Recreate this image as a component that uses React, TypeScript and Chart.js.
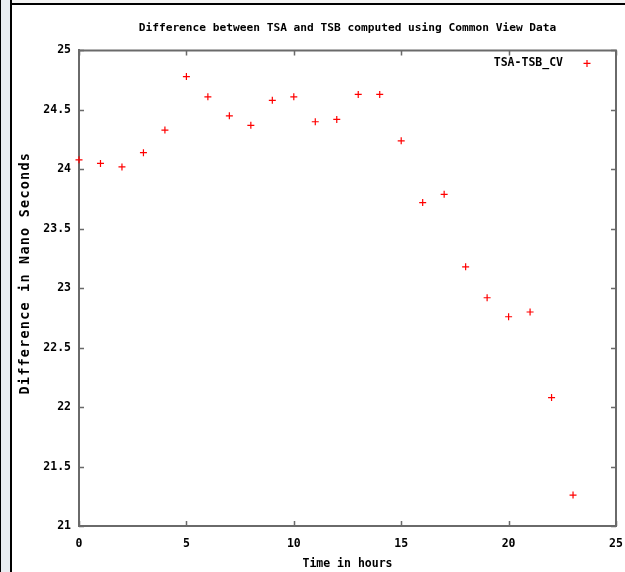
import React, { useEffect, useRef } from 'react';
import { Chart, registerables } from 'chart.js';

Chart.register(...registerables);

const titleText = 'Difference between TSA and TSB computed using Common View Data';
const seriesLabel = 'TSA-TSB_CV';
const xAxisTitle = 'Time in hours';
const yAxisTitle = 'Difference in Nano Seconds';

const hours = [0, 1, 2, 3, 4, 5, 6, 7, 8, 9, 10, 11, 12, 13, 14, 15, 16, 17, 18, 19, 20, 21, 22, 23];
const tsaTsbCv = [
  24.08, 24.05, 24.02, 24.14, 24.33, 24.78, 24.61, 24.45, 24.37, 24.58, 24.61, 24.40,
  24.42, 24.63, 24.63, 24.24, 23.72, 23.79, 23.18, 22.92, 22.76, 22.80, 22.08, 21.26,
];
const xTicks = [0, 5, 10, 15, 20, 25];
const yTicks = [21, 21.5, 22, 22.5, 23, 23.5, 24, 24.5, 25];

const FONT = "'DejaVu Sans Mono', 'Liberation Mono', monospace";
const AXIS_COLOR = '#6a6a6a';

const gnuplotFrame = {
  id: 'gnuplotFrame',
  afterDraw(chart: any) {
    const { ctx, chartArea } = chart;
    const { left, right, top, bottom } = chartArea;
    const xs = chart.scales.x;
    const ys = chart.scales.y;
    ctx.save();
    // top and right borders
    ctx.strokeStyle = AXIS_COLOR;
    ctx.lineWidth = 2;
    ctx.beginPath();
    ctx.moveTo(left - 1, top);
    ctx.lineTo(right, top);
    ctx.lineTo(right, bottom + 1);
    ctx.stroke();
    // inward ticks (mirrored)
    ctx.lineWidth = 1.5;
    ctx.beginPath();
    xTicks.forEach((v) => {
      const px = Math.round(xs.getPixelForValue(v)) + 0.5;
      ctx.moveTo(px, bottom);
      ctx.lineTo(px, bottom - 5);
      ctx.moveTo(px, top);
      ctx.lineTo(px, top + 5);
    });
    yTicks.forEach((v) => {
      const py = Math.round(ys.getPixelForValue(v)) + 0.5;
      ctx.moveTo(left, py);
      ctx.lineTo(left + 5, py);
      ctx.moveTo(right, py);
      ctx.lineTo(right - 5, py);
    });
    ctx.stroke();
    // legend (text then marker, gnuplot style)
    const ly = top + 13;
    ctx.fillStyle = '#000';
    ctx.font = `bold 11.5px ${FONT}`;
    ctx.textAlign = 'right';
    ctx.textBaseline = 'middle';
    ctx.fillText(seriesLabel, right - 53, ly);
    const mx = right - 29;
    ctx.strokeStyle = '#ff0000';
    ctx.lineWidth = 1.2;
    ctx.beginPath();
    ctx.moveTo(mx - 3.5, ly);
    ctx.lineTo(mx + 3.5, ly);
    ctx.moveTo(mx, ly - 3.5);
    ctx.lineTo(mx, ly + 3.5);
    ctx.stroke();
    // y axis title (letter-spaced, as in the original)
    ctx.translate(25, top + (bottom - top) / 2 - 15);
    ctx.rotate(-Math.PI / 2);
    ctx.textAlign = 'center';
    ctx.font = `bold 13.5px ${FONT}`;
    (ctx as any).letterSpacing = '1.2px';
    ctx.fillText(yAxisTitle, 0, 0);
    ctx.restore();
  },
};

export default function App() {
  const canvasRef = useRef<HTMLCanvasElement | null>(null);

  useEffect(() => {
    if (!canvasRef.current) return;
    const chart = new Chart(canvasRef.current, {
      type: 'scatter',
      data: {
        datasets: [
          {
            label: seriesLabel,
            data: hours.map((h, i) => ({ x: h, y: tsaTsbCv[i] })),
            pointStyle: 'cross',
            pointRadius: 3.5,
            pointHoverRadius: 3.5,
            borderColor: '#ff0000',
            backgroundColor: '#ff0000',
            borderWidth: 1.2,
            clip: false,
          } as any,
        ],
      },
      options: {
        animation: false,
        responsive: false,
        devicePixelRatio: 1,
        layout: { padding: { left: 12, right: 9, top: 0, bottom: 0 } },
        plugins: {
          legend: { display: false },
          tooltip: { enabled: false },
          title: {
            display: true,
            text: titleText,
            fullSize: false,
            color: '#000',
            font: { family: FONT, size: 11.2, weight: 'bold' },
            padding: { top: 21, bottom: 16 },
          },
        },
        scales: {
          x: {
            type: 'linear',
            min: 0,
            max: 25,
            z: 1,
            grid: { display: false, drawTicks: false, tickLength: 0 },
            border: { display: true, color: AXIS_COLOR, width: 2 },
            ticks: {
              stepSize: 5,
              color: '#000',
              padding: 11,
              font: { family: FONT, size: 11.5, weight: 'bold' },
              callback: (v: any) => String(v),
            },
            title: {
              display: true,
              text: xAxisTitle,
              color: '#000',
              font: { family: FONT, size: 11.5, weight: 'bold' },
              padding: { top: 0, bottom: 1 },
            },
            afterFit: (scale: any) => {
              scale.height = 46;
              scale.paddingLeft = 0;
              scale.paddingRight = 0;
            },
          },
          y: {
            type: 'linear',
            min: 21,
            max: 25,
            z: 1,
            grid: { display: false, drawTicks: false, tickLength: 0 },
            border: { display: true, color: AXIS_COLOR, width: 2 },
            ticks: {
              stepSize: 0.5,
              color: '#000',
              padding: 8,
              font: { family: FONT, size: 11.5, weight: 'bold' },
              callback: (v: any) => String(v),
            },
            title: { display: false },
            afterFit: (scale: any) => {
              scale.width = 67;
              scale.paddingTop = 0;
              scale.paddingBottom = 0;
            },
          },
        },
      } as any,
      plugins: [gnuplotFrame],
    });
    return () => chart.destroy();
  }, []);

  return (
    <div style={{ position: 'absolute', left: 0, top: 0, width: 625, height: 572, background: '#fff', overflow: 'hidden' }}>
      <div style={{ position: 'absolute', left: 0, top: 0, width: 1, height: 572, background: '#000' }} />
      <div style={{ position: 'absolute', left: 1, top: 0, width: 9, height: 572, background: '#e9edf1' }} />
      <div style={{ position: 'absolute', left: 10, top: 0, width: 2, height: 572, background: '#000' }} />
      <div style={{ position: 'absolute', left: 12, top: 0, width: 613, height: 3, background: '#f4f4f4' }} />
      <div style={{ position: 'absolute', left: 10, top: 3, width: 615, height: 2, background: '#000' }} />
      <canvas ref={canvasRef} width={625} height={572} style={{ position: 'absolute', left: 0, top: 0 }} />
    </div>
  );
}
